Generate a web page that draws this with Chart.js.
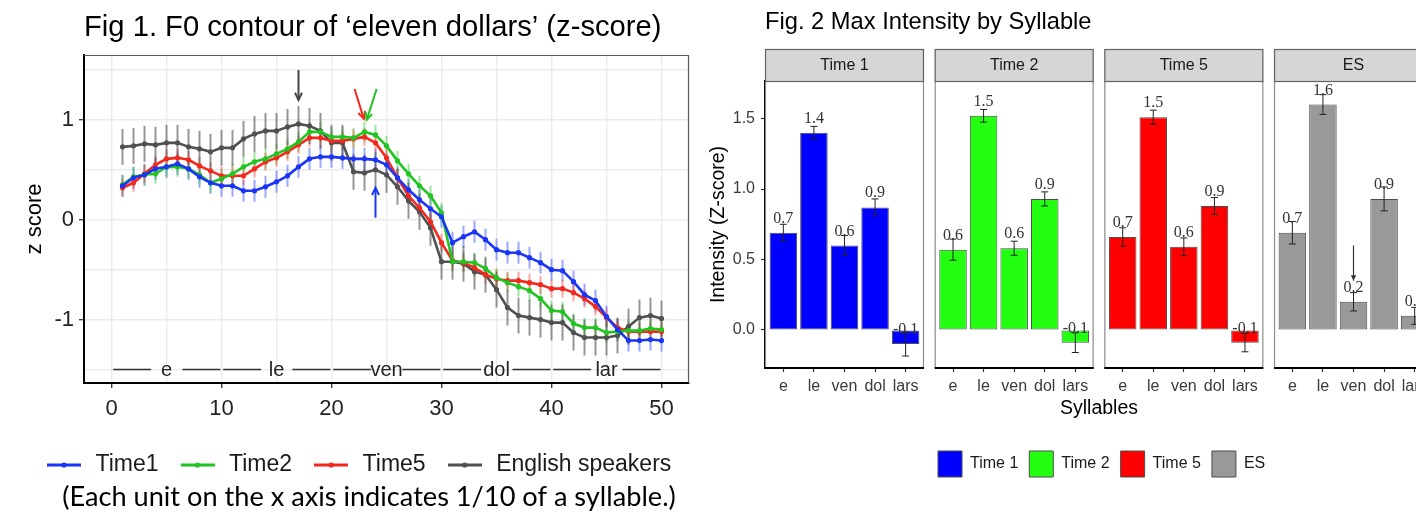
<!DOCTYPE html>
<html>
<head>
<meta charset="utf-8">
<script src="https://cdn.jsdelivr.net/npm/chart.js@4/dist/chart.umd.min.js"></script>
<style>
html,body{margin:0;padding:0;background:#fff;overflow:hidden;width:1416px;height:515px;position:relative;}
#fig1{position:absolute;left:0;top:0;}
#fig2{position:absolute;left:700px;top:0;}
</style>
</head>
<body>
<canvas id="fig1" width="700" height="515"></canvas>
<canvas id="fig2" width="740" height="515"></canvas>
<script>
const FONT = "'Liberation Sans', Arial, Helvetica, sans-serif";

// ================= Fig 1 data =================
const frames = [1,2,3,4,5,6,7,8,9,10,11,12,13,14,15,16,17,18,19,20,21,22,23,24,25,26,27,28,29,30,31,32,33,34,35,36,37,38,39,40,41,42,43,44,45,46,47,48,49,50];
const f0Time1 = [0.34,0.42,0.45,0.51,0.53,0.56,0.51,0.43,0.37,0.34,0.34,0.29,0.29,0.33,0.38,0.44,0.53,0.61,0.63,0.63,0.62,0.61,0.61,0.60,0.55,0.42,0.30,0.20,0.11,0.03,-0.23,-0.17,-0.12,-0.20,-0.30,-0.33,-0.33,-0.38,-0.43,-0.50,-0.51,-0.62,-0.75,-0.81,-0.97,-1.10,-1.21,-1.21,-1.20,-1.21];
const f0Time2 = [0.35,0.43,0.45,0.46,0.53,0.53,0.51,0.45,0.37,0.41,0.46,0.53,0.58,0.61,0.66,0.71,0.78,0.88,0.88,0.83,0.83,0.82,0.88,0.85,0.74,0.59,0.46,0.34,0.24,0.07,-0.42,-0.42,-0.43,-0.49,-0.58,-0.63,-0.67,-0.71,-0.79,-0.91,-0.92,-1.04,-1.08,-1.08,-1.13,-1.12,-1.11,-1.11,-1.09,-1.10];
const f0Time5 = [0.32,0.37,0.46,0.55,0.61,0.62,0.60,0.54,0.49,0.44,0.44,0.44,0.51,0.58,0.62,0.68,0.75,0.82,0.82,0.79,0.79,0.81,0.83,0.77,0.62,0.42,0.24,0.12,-0.02,-0.23,-0.41,-0.43,-0.48,-0.55,-0.59,-0.61,-0.61,-0.63,-0.65,-0.69,-0.69,-0.73,-0.79,-0.87,-0.98,-1.08,-1.12,-1.12,-1.12,-1.12];
const f0English = [0.73,0.74,0.76,0.75,0.77,0.77,0.73,0.71,0.68,0.72,0.72,0.81,0.86,0.89,0.89,0.93,0.96,0.94,0.89,0.77,0.77,0.48,0.47,0.50,0.45,0.33,0.19,0.08,-0.08,-0.42,-0.42,-0.44,-0.52,-0.55,-0.70,-0.88,-0.96,-0.98,-1.00,-1.03,-1.03,-1.13,-1.18,-1.18,-1.18,-1.16,-1.07,-0.98,-0.96,-0.99];
const f0ErrHalf = [0.11, 0.10, 0.09, 0.18];
const f0Labels = ['Time1', 'Time2', 'Time5', 'English speakers'];
const f0Colors = ['#1a35f5', '#21c421', '#f5281e', '#505050'];
const f0ErrColors = ['rgba(70,95,255,0.55)', 'rgba(60,205,60,0.5)', 'rgba(250,80,70,0.5)', 'rgba(80,80,80,0.6)'];
const f0XTicks = [0,5,10,15,20,25,30,35,40,45,50];
const f0YTicks = [-1.5,-1,-0.5,0,0.5,1,1.5];
const syllableStarts = [0,10,20,30,40];
const syllableNames = ['e','le','ven','dol','lar'];
const syllableRowY = -1.5;
const fig1Arrows = [
  {from:[17,1.5], to:[17,1.2], color:'#444444'},
  {from:[22.1,1.31], to:[22.94,1.01], color:'#f5281e'},
  {from:[24.1,1.31], to:[23.2,1.0], color:'#21c421'},
  {from:[24,0.02], to:[24,0.32], color:'#1a35f5'}
];
const fig1Title = 'Fig 1. F0 contour of \u2018eleven dollars\u2019 (z-score)';
const fig1Caption = '(Each unit on the x axis indicates 1/10 of a syllable.)';

// ================= Fig 2 data =================
const syllables = ['e','le','ven','dol','lars'];
const groupNames = ['Time 1','Time 2','Time 5','ES'];
const intTime1 = [0.69, 1.40, 0.60, 0.87, -0.10];
const intTime2 = [0.57, 1.52, 0.58, 0.93, -0.09];
const intTime5 = [0.66, 1.51, 0.59, 0.88, -0.09];
const intES    = [0.69, 1.60, 0.20, 0.93, 0.10];
const seTime1 = [0.06, 0.045, 0.07, 0.06, 0.085];
const seTime2 = [0.075, 0.045, 0.05, 0.05, 0.07];
const seTime5 = [0.065, 0.05, 0.063, 0.06, 0.065];
const seES    = [0.08, 0.07, 0.065, 0.085, 0.06];
const intColors = ['#0000ff', '#22ff11', '#ff0000', '#999999'];
const intYTicks = [0, 0.5, 1, 1.5];
const esArrow = {group:3, index:2, from:0.60, to:0.35};
const fig2Title = 'Fig. 2 Max Intensity by Syllable';

// ================= helpers =================
function drawArrow(ctx, x0, y0, x1, y1, color, lw, head, filled) {
  ctx.save();
  ctx.strokeStyle = color; ctx.fillStyle = color; ctx.lineWidth = lw;
  ctx.beginPath(); ctx.moveTo(x0, y0); ctx.lineTo(x1, y1); ctx.stroke();
  const ang = Math.atan2(y1 - y0, x1 - x0);
  ctx.beginPath();
  ctx.moveTo(x1 - head * Math.cos(ang - 0.45), y1 - head * Math.sin(ang - 0.45));
  ctx.lineTo(x1, y1);
  ctx.lineTo(x1 - head * Math.cos(ang + 0.45), y1 - head * Math.sin(ang + 0.45));
  if (filled) { ctx.closePath(); ctx.fill(); } else { ctx.stroke(); }
  ctx.restore();
}
function lineIcon(color) {
  const c = document.createElement('canvas');
  c.width = 34; c.height = 8;
  const g = c.getContext('2d');
  g.strokeStyle = color; g.lineWidth = 3;
  g.beginPath(); g.moveTo(0, 4); g.lineTo(34, 4); g.stroke();
  g.fillStyle = color; g.beginPath(); g.arc(17, 4, 2.6, 0, Math.PI * 2); g.fill();
  return c;
}
// shift a horizontal legend so that its first item starts at a given canvas x
function legendShifter(targetX) {
  return function(chart) {
    const lg = chart.legend;
    if (!lg || !lg.lineWidths) return;
    const pad = lg.options.labels.padding;
    const x0 = (lg.left + pad + lg.right - lg.lineWidths[0]) / 2;
    const d = targetX - x0;
    lg.left += d; lg.right += d;
  };
}

// ================= Fig 1 chart =================
const f0Series = [f0Time1, f0Time2, f0Time5, f0English];
const f0Icons = f0Colors.map(lineIcon);

const fig1Plugin = {
  id: 'fig1Extras',
  afterLayout: legendShifter(44),
  beforeDatasetsDraw(chart) {
    const {ctx, chartArea: a, scales: {x, y}} = chart;
    ctx.save();
    ctx.strokeStyle = '#5a5a5a'; ctx.lineWidth = 1.2;
    ctx.beginPath(); ctx.moveTo(a.left, a.top + 0.5); ctx.lineTo(a.right - 0.5, a.top + 0.5); ctx.lineTo(a.right - 0.5, a.bottom); ctx.stroke();
    const ya = y.getPixelForValue(syllableRowY);
    ctx.strokeStyle = '#333'; ctx.lineWidth = 1.5;
    ctx.font = '20px ' + FONT; ctx.textAlign = 'center'; ctx.textBaseline = 'middle';
    syllableStarts.forEach((s, i) => {
      [[s + 0.15, s + 3.6], [s + 6.45, s + 9.9]].forEach(seg => {
        ctx.beginPath();
        ctx.moveTo(x.getPixelForValue(seg[0]), ya);
        ctx.lineTo(x.getPixelForValue(seg[1]), ya);
        ctx.stroke();
      });
      ctx.fillStyle = '#222';
      ctx.fillText(syllableNames[i], x.getPixelForValue(s + 5), ya + 1);
    });
    f0Series.forEach((s, k) => {
      ctx.strokeStyle = f0ErrColors[k]; ctx.lineWidth = 2;
      s.forEach((v, i) => {
        const px = x.getPixelForValue(frames[i]);
        ctx.beginPath();
        ctx.moveTo(px, y.getPixelForValue(v - f0ErrHalf[k]));
        ctx.lineTo(px, y.getPixelForValue(v + f0ErrHalf[k]));
        ctx.stroke();
      });
    });
    ctx.restore();
  },
  afterDatasetsDraw(chart) {
    const {ctx, scales: {x, y}} = chart;
    fig1Arrows.forEach(ar => {
      drawArrow(ctx, x.getPixelForValue(ar.from[0]), y.getPixelForValue(ar.from[1]),
        x.getPixelForValue(ar.to[0]), y.getPixelForValue(ar.to[1]), ar.color, 2, 8, false);
    });
  },
  afterDraw(chart) {
    const ctx = chart.ctx;
    ctx.save();
    let size = 22;
    ctx.font = size + "px Lato, 'Open Sans', sans-serif";
    const w = ctx.measureText(fig1Caption).width;
    size = size * 614 / w;
    ctx.font = size.toFixed(2) + "px Lato, 'Open Sans', sans-serif";
    ctx.fillStyle = '#000'; ctx.textAlign = 'center'; ctx.textBaseline = 'middle';
    ctx.fillText(fig1Caption, 369, 497);
    ctx.restore();
  }
};

new Chart(document.getElementById('fig1'), {
  type: 'line',
  data: {
    datasets: f0Series.map((s, k) => ({
      label: f0Labels[k],
      data: frames.map((fx, i) => ({x: fx, y: s[i]})),
      borderColor: f0Colors[k],
      backgroundColor: f0Colors[k],
      borderWidth: 2.6,
      pointRadius: 2.6,
      pointBorderWidth: 0,
      pointBackgroundColor: f0Colors[k],
      tension: 0,
      fill: false
    }))
  },
  options: {
    responsive: false,
    animation: false,
    devicePixelRatio: 1,
    layout: {padding: {left: 0, right: 11, top: 0, bottom: 28.5}},
    plugins: {
      title: {
        display: true, text: fig1Title, align: 'start', fullSize: false,
        color: '#000', font: {family: FONT, size: 29.2, weight: 'normal'},
        padding: {top: 10, bottom: 9.96}
      },
      legend: {
        display: true, position: 'bottom',
        labels: {
          usePointStyle: true, pointStyleWidth: 40, padding: 19,
          color: '#1a1a1a', font: {family: FONT, size: 23},
          generateLabels(chart) {
            const items = Chart.defaults.plugins.legend.labels.generateLabels(chart);
            items.forEach((it, i) => { it.pointStyle = f0Icons[i]; });
            return items;
          }
        }
      },
      tooltip: {enabled: false}
    },
    scales: {
      x: {
        type: 'linear', min: -2.5, max: 52.5,
        afterBuildTicks: s => { s.ticks = f0XTicks.map(v => ({value: v})); },
        afterFit: s => { s.height = 51.5; },
        ticks: {
          autoSkip: false, maxRotation: 0, padding: 8,
          color: '#222', font: {family: FONT, size: 22},
          callback: v => (v % 10 === 0 ? String(v) : '')
        },
        grid: {
          color: '#ebebeb', lineWidth: 1.4, tickLength: 5, tickWidth: 1.3,
          tickColor: c => (c.tick && c.tick.value % 10 === 0 ? '#333' : 'rgba(0,0,0,0)')
        },
        border: {display: true, color: '#000', width: 2}
      },
      y: {
        type: 'linear', min: -1.635, max: 1.65,
        afterBuildTicks: s => { s.ticks = f0YTicks.map(v => ({value: v})); },
        afterFit: s => { s.width = 84; },
        ticks: {
          autoSkip: false, padding: 5,
          color: '#222', font: {family: FONT, size: 22},
          callback: v => (Number.isInteger(v) ? String(v) : '')
        },
        grid: {
          color: '#ebebeb', lineWidth: 1.4, tickLength: 5, tickWidth: 1.3,
          tickColor: c => (c.tick && Number.isInteger(c.tick.value) ? '#333' : 'rgba(0,0,0,0)')
        },
        border: {display: true, color: '#000', width: 2},
        title: {display: true, text: 'z score', color: '#000', font: {family: FONT, size: 22}, padding: {top: 22, bottom: 0}}
      }
    }
  },
  plugins: [fig1Plugin]
});

// ================= Fig 2 chart =================
const PANEL_STEP = 5.55;
const PANEL_PAD = 0.6;
const intSeries = [intTime1, intTime2, intTime5, intES];
const intSE = [seTime1, seTime2, seTime5, seES];
const barTickValues = [];
groupNames.forEach((g, gi) => syllables.forEach((s, j) => barTickValues.push(gi * PANEL_STEP + j)));

const fig2Plugin = {
  id: 'fig2Extras',
  afterLayout: legendShifter(238),
  beforeDatasetsDraw(chart) {
    const {ctx, chartArea: a, scales: {x}} = chart;
    ctx.save();
    groupNames.forEach((name, g) => {
      const l = x.getPixelForValue(g * PANEL_STEP - PANEL_PAD);
      const r = x.getPixelForValue(g * PANEL_STEP + syllables.length - 1 + PANEL_PAD);
      ctx.strokeStyle = '#8c8c8c'; ctx.lineWidth = 1.2;
      ctx.strokeRect(l + 0.5, a.top, r - l - 1, a.bottom - a.top);
      ctx.fillStyle = '#d6d6d6';
      ctx.fillRect(l, a.top - 32, r - l, 32);
      ctx.strokeStyle = '#616161'; ctx.lineWidth = 1.2;
      ctx.strokeRect(l + 0.5, a.top - 31.5, r - l - 1, 32);
      ctx.fillStyle = '#1a1a1a'; ctx.font = '16px ' + FONT;
      ctx.textAlign = 'center'; ctx.textBaseline = 'middle';
      ctx.fillText(name, (l + r) / 2, a.top - 15);
      ctx.strokeStyle = '#000'; ctx.lineWidth = 2;
      ctx.beginPath(); ctx.moveTo(l, a.bottom); ctx.lineTo(r, a.bottom); ctx.stroke();
    });
    ctx.restore();
  },
  afterDatasetsDraw(chart) {
    const {ctx, scales: {x, y}} = chart;
    ctx.save();
    intSeries.forEach((vals, g) => {
      vals.forEach((v, j) => {
        const px = x.getPixelForValue(g * PANEL_STEP + j);
        const yt = y.getPixelForValue(v + intSE[g][j]);
        const yb = y.getPixelForValue(v - intSE[g][j]);
        ctx.strokeStyle = '#222'; ctx.lineWidth = 1;
        ctx.beginPath();
        ctx.moveTo(px, yt); ctx.lineTo(px, yb);
        ctx.moveTo(px - 3.5, yt); ctx.lineTo(px + 3.5, yt);
        ctx.moveTo(px - 3.5, yb); ctx.lineTo(px + 3.5, yb);
        ctx.stroke();
        ctx.fillStyle = '#333'; ctx.font = "16px 'Liberation Serif', 'Times New Roman', serif";
        ctx.textAlign = 'center'; ctx.textBaseline = 'middle';
        ctx.fillText(v.toFixed(1), px, y.getPixelForValue(v + 0.1));
      });
    });
    const ax = x.getPixelForValue(esArrow.group * PANEL_STEP + esArrow.index);
    drawArrow(ctx, ax, y.getPixelForValue(esArrow.from), ax, y.getPixelForValue(esArrow.to), '#333', 1.2, 6, true);
    ctx.restore();
  }
};

new Chart(document.getElementById('fig2'), {
  type: 'bar',
  data: {
    datasets: groupNames.map((name, g) => ({
      label: name,
      data: syllables.map((s, j) => ({x: g * PANEL_STEP + j, y: intSeries[g][j]})),
      backgroundColor: intColors[g],
      borderColor: '#4d4d4d',
      borderWidth: 1,
      borderSkipped: false,
      grouped: false,
      barPercentage: 0.9,
      categoryPercentage: 1
    }))
  },
  options: {
    responsive: false,
    animation: false,
    devicePixelRatio: 1,
    layout: {padding: {left: 0, right: 7, top: 0, bottom: 28}},
    plugins: {
      title: {
        display: true, text: fig2Title, align: 'start', fullSize: false,
        color: '#000', font: {family: FONT, size: 23.7, weight: 'normal'},
        padding: {top: 7.8, bottom: 44.76}
      },
      legend: {
        display: true, position: 'bottom',
        labels: {boxWidth: 24, boxHeight: 26, padding: 11, color: '#1a1a1a', font: {family: FONT, size: 16}}
      },
      tooltip: {enabled: false}
    },
    scales: {
      x: {
        type: 'linear', offset: false,
        min: -PANEL_PAD, max: 3 * PANEL_STEP + syllables.length - 1 + PANEL_PAD,
        afterBuildTicks: s => { s.ticks = barTickValues.map(v => ({value: v})); },
        afterFit: s => { s.height = 72; },
        ticks: {
          autoSkip: false, maxRotation: 0, padding: 5,
          color: '#3a3a3a', font: {family: FONT, size: 16},
          callback: (v, i) => syllables[i % syllables.length]
        },
        grid: {offset: false, drawOnChartArea: false, drawTicks: true, tickLength: 4, tickWidth: 1.2, tickColor: '#333'},
        border: {display: false},
        title: {display: true, text: 'Syllables', color: '#000', font: {family: FONT, size: 19.5}, padding: {top: 0, bottom: 20}}
      },
      y: {
        type: 'linear', min: -0.27, max: 1.767,
        afterBuildTicks: s => { s.ticks = intYTicks.map(v => ({value: v})); },
        afterFit: s => { s.width = 65; },
        ticks: {
          padding: 6, color: '#3a3a3a', font: {family: FONT, size: 16},
          callback: v => v.toFixed(1)
        },
        grid: {drawOnChartArea: false, drawTicks: true, tickLength: 4, tickWidth: 1.2, tickColor: '#333'},
        border: {display: true, color: '#000', width: 2},
        title: {display: true, text: 'Intensity (Z-score)', color: '#000', font: {family: FONT, size: 19.5}, padding: {top: 7.3, bottom: 0}}
      }
    }
  },
  plugins: [fig2Plugin]
});
</script>
</body>
</html>
